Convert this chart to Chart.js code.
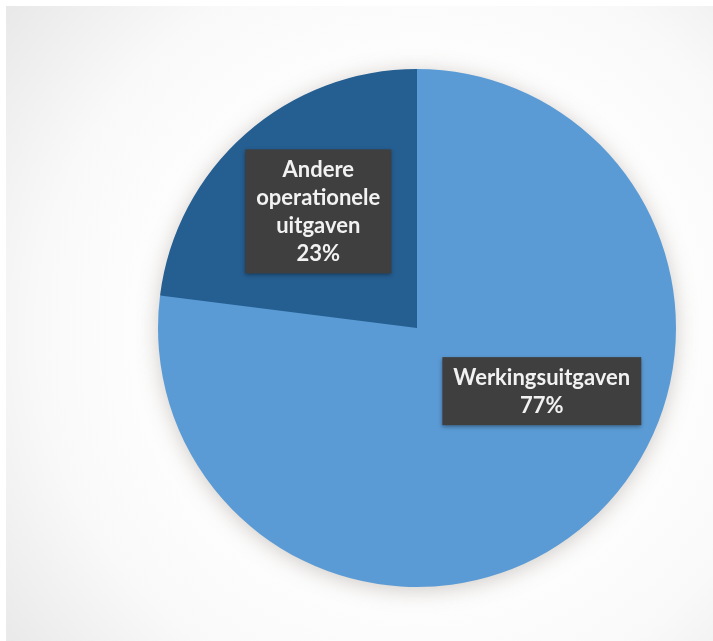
<!DOCTYPE html>
<html>
<head>
<meta charset="utf-8">
<script src="https://cdn.jsdelivr.net/npm/chart.js@4.4.1/dist/chart.umd.min.js"></script>
<style>
  html, body { margin: 0; padding: 0; background: #fff; }
  #wrap { position: relative; width: 713px; height: 641px; }
</style>
</head>
<body>
<div id="wrap"><canvas id="pieChart"></canvas></div>
<script>
// Uitgaven verdeling
const categories = ['Werkingsuitgaven', 'Andere operationele uitgaven'];
const shares = [77, 23];
const sliceColors = ['#5b9bd5', '#255e91'];

// where each label box sits: shift from the slice's middle angle (rad) and distance as fraction of radius
const labelSpots = [
    { shift: -0.38, dist: 0.54 },
    { shift: 0.02, dist: 0.59 }
];

const backdrop = {
    id: 'backdrop',
    beforeDraw(chart) {
        const ctx = chart.ctx;
        const w = chart.width, h = chart.height;
        ctx.save();
        ctx.fillStyle = '#ffffff';
        ctx.fillRect(0, 0, w, h);
        const g = ctx.createRadialGradient(417, 330, 230, 417, 330, 560);
        g.addColorStop(0, '#ffffff');
        g.addColorStop(0.45, '#f9f9f9');
        g.addColorStop(1, '#e4e4e4');
        ctx.fillStyle = g;
        ctx.fillRect(6, 6, w - 6, h - 6);
        ctx.restore();
    },
    beforeDatasetsDraw(chart) {
        // soft shadow under the pie
        const arc = chart.getDatasetMeta(0).data[0];
        if (!arc) return;
        const ctx = chart.ctx;
        ctx.save();
        ctx.shadowColor = 'rgba(110, 95, 80, 0.35)';
        ctx.shadowBlur = 22;
        ctx.shadowOffsetY = 3;
        ctx.fillStyle = sliceColors[0];
        ctx.beginPath();
        ctx.arc(arc.x, arc.y, arc.outerRadius - 1, 0, Math.PI * 2);
        ctx.fill();
        ctx.restore();
    }
};

const boxLabels = {
    id: 'boxLabels',
    afterDatasetsDraw(chart) {
        const ctx = chart.ctx;
        const meta = chart.getDatasetMeta(0);
        const lineH = 28, padX = 11, padY = 6;
        ctx.save();
        ctx.font = "bold 22px Lato, 'Open Sans', sans-serif";
        ctx.textAlign = 'center';
        ctx.textBaseline = 'middle';
        meta.data.forEach(function(arc, i) {
            const spot = labelSpots[i];
            const mid = (arc.startAngle + arc.endAngle) / 2 + spot.shift;
            const cx = arc.x + Math.cos(mid) * arc.outerRadius * spot.dist;
            const cy = arc.y + Math.sin(mid) * arc.outerRadius * spot.dist;
            const lines = categories[i].split(' ').concat([shares[i] + '%']);
            let maxW = 0;
            lines.forEach(function(t) { maxW = Math.max(maxW, ctx.measureText(t).width); });
            const bw = maxW + padX * 2;
            const bh = lines.length * lineH + padY * 2;
            ctx.save();
            ctx.shadowColor = 'rgba(0,0,0,0.35)';
            ctx.shadowBlur = 4;
            ctx.shadowOffsetY = 2;
            ctx.fillStyle = '#3f3f3f';
            ctx.fillRect(cx - bw / 2, cy - bh / 2, bw, bh);
            ctx.restore();
            ctx.fillStyle = '#f2f2f2';
            lines.forEach(function(t, j) {
                ctx.fillText(t, cx, cy - bh / 2 + padY + lineH * (j + 0.5) + 1);
            });
        });
        ctx.restore();
    }
};

new Chart(document.getElementById('pieChart'), {
    type: 'pie',
    data: {
        labels: categories,
        datasets: [{
            data: shares,
            backgroundColor: sliceColors,
            borderWidth: 0
        }]
    },
    options: {
        responsive: true,
        maintainAspectRatio: false,
        animation: false,
        layout: { padding: { left: 158, right: 37, top: 69, bottom: 54 } },
        plugins: {
            legend: { display: false },
            tooltip: { enabled: false }
        }
    },
    plugins: [backdrop, boxLabels]
});
</script>
</body>
</html>
